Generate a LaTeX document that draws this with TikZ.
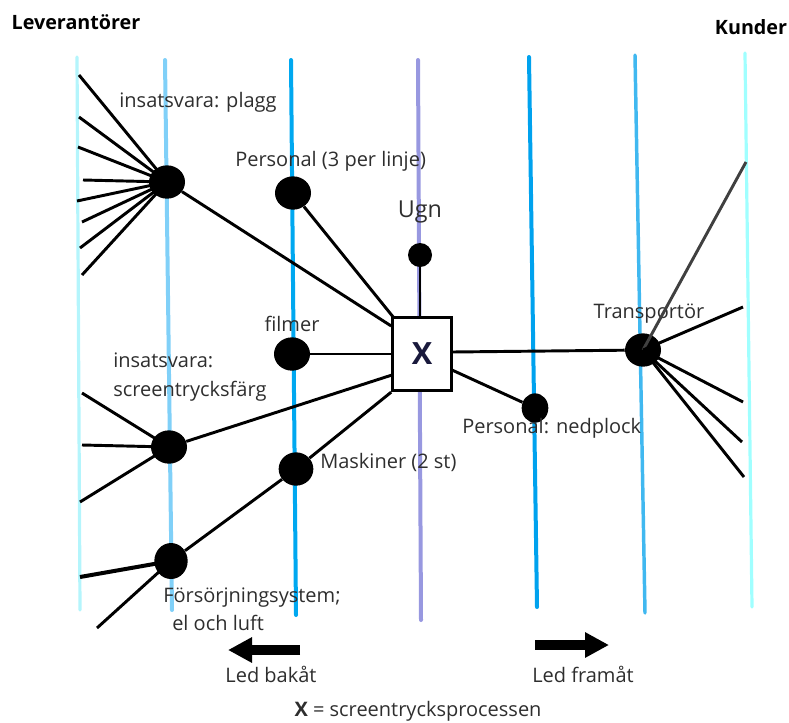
\documentclass[tikz,border=0pt]{standalone}
\usepackage{fontspec}
\setmainfont{Open Sans}
\usetikzlibrary{shapes.geometric,arrows.meta}
\definecolor{laneA}{HTML}{B4F5FC}
\definecolor{laneB}{HTML}{80D0F8}
\definecolor{laneC}{HTML}{00A8F0}
\definecolor{laneD}{HTML}{9898E0}
\definecolor{laneE}{HTML}{00A2EE}
\definecolor{laneF}{HTML}{40B8F0}
\definecolor{laneG}{HTML}{A0FFFF}
\definecolor{txt}{HTML}{2E2E2E}
\begin{document}
\begin{tikzpicture}[x=0.75pt,y=-0.75pt,
  lane/.style={line width=3pt,line cap=round},
  link/.style={line width=2.2pt,black},
  hub/.style={ellipse,fill=black,inner sep=0pt,minimum width=27pt,minimum height=25pt},
  lbl/.style={text=txt,font=\fontsize{15}{18}\selectfont,inner sep=0pt},
  head/.style={font=\bfseries\fontsize{14.8}{18}\selectfont,inner sep=0pt},
  dirarrow/.style={line width=7.5pt,-{Triangle[length=18pt,width=18pt]}}]
\useasboundingbox (0,0) rectangle (789,722);

% value-chain lanes
\draw[lane,laneA,line width=2.4pt] (77,57) -- (80,610);
\draw[lane,laneB] (165,60) -- (172,610);
\draw[lane,laneC] (291,60) -- (296,615);
\draw[lane,laneD] (418,60) -- (421,620);
\draw[lane,laneE] (529,57) -- (537,607);
\draw[lane,laneF,line width=2.6pt] (635,55) -- (645,613);
\draw[lane,laneG,line width=2.4pt] (745,53) -- (752,607);

% headings
\node[head] (lev) at (76,22) {Leverantörer};
\node[head] (kun) at (751,27) {Kunder};

% process box
\node[draw,line width=2.2pt,fill=white,minimum width=44pt,minimum height=55pt,inner sep=0pt,
      font=\bfseries\fontsize{23}{24}\selectfont,text={rgb,255:red,25;green,25;blue,60}] (x) at (422,354) {X};

% hubs
\node[hub] (plagg) at (167,182) {};
\node[hub] (pers) at (293,193) {};
\node[hub,minimum width=18pt,minimum height=18pt] (ugn) at (420,255) {};
\node[hub] (film) at (292,354) {};
\node[hub] (farg) at (169,447) {};
\node[hub,minimum width=26pt] (mask) at (296,469) {};
\node[hub,minimum width=25pt,minimum height=27pt] (fors) at (171,561) {};
\node[hub] (trans) at (643,350) {};
\node[hub,minimum width=20pt,minimum height=22pt] (ned) at (535,408) {};

% labels
\node[lbl] (lplagg) at (198,102) {insatsvara: plagg};
\node[lbl,anchor=west] (lpers) at (235,161) {Personal (3 per linje)};
\node[lbl,font=\fontsize{17.5}{20}\selectfont] (lugn) at (420,212) {Ugn};
\node[lbl] (lfilm) at (292,324) {filmer};
\node[lbl,anchor=west,align=left,font=\fontsize{15}{22}\selectfont] (lfarg) at (113,377) {insatsvara:\\screentrycksfärg};
\node[lbl,anchor=west] (lmask) at (320,462) {Maskiner (2 st)};
\node[lbl,anchor=west] (lfors) at (163,598) {Försörjningsystem;};
\node[lbl,anchor=west] (lfors2) at (172,623) {el och luft};
\node[lbl] (ltrans) at (649,314) {Transportör};
\node[lbl,anchor=west] (lned) at (462,428) {Personal: nedplock};

% supplier ends of the fans
\foreach \n/\y/\xx in {1/75/79,2/117/79,3/147/78,4/180/83,5/201/77,6/222/82,7/248/80,8/275/82}
  \coordinate (s\n) at (\xx,\y);
\coordinate (f1) at (82,393);
\coordinate (f2) at (82,445);
\coordinate (f3) at (80,502);
\coordinate (e1) at (80,577);
\coordinate (e2) at (97,628);
% customer ends
\coordinate (k1) at (746,162);
\coordinate (k2) at (743,307);
\coordinate (k3) at (743,402);
\coordinate (k4) at (742,442);
\coordinate (k5) at (744,477);

% connectors
\foreach \n in {1,...,8} \draw[link] (plagg.center) -- (s\n);
\draw[link] (plagg) -- (x.north west |- 0,326);
\draw[link] (pers) -- (394,318);
\draw[link] (ugn) -- (x.north -| ugn);
\draw[link] (film) -- (film -| x.west);
\draw[link] (farg) -- (392,375);
\draw[link] (farg.center) -- (f1);
\draw[link] (farg.center) -- (f2);
\draw[link] (farg.center) -- (f3);
\draw[link] (x.south west) -- (mask);
\draw[link] (mask) -- (fors);
\draw[link] (fors.center) -- (e2);
\draw[link,line width=3pt] (fors.center) -- (e1);
\draw[link] (452,352) -- (trans);
\draw[link] (452,370) -- (ned);
\draw[link,black!75] (trans.center) -- (k1);
\foreach \n in {2,...,5} \draw[link] (trans.center) -- (k\n);

% direction arrows
\coordinate (bs) at (300,650);
\coordinate (be) at (228,650);
\coordinate (fs) at (535,645);
\coordinate (fe) at (609,645);
\draw[dirarrow] (bs) -- (be);
\draw[dirarrow] (fs) -- (fe);
\node[lbl] (lbak) at (271,674) {Led bakåt};
\node[lbl] (lfram) at (583,674) {Led framåt};
\node[lbl] (cap) at (418,711) {\textbf{X} = screentrycksprocessen};
\end{tikzpicture}
\end{document}
